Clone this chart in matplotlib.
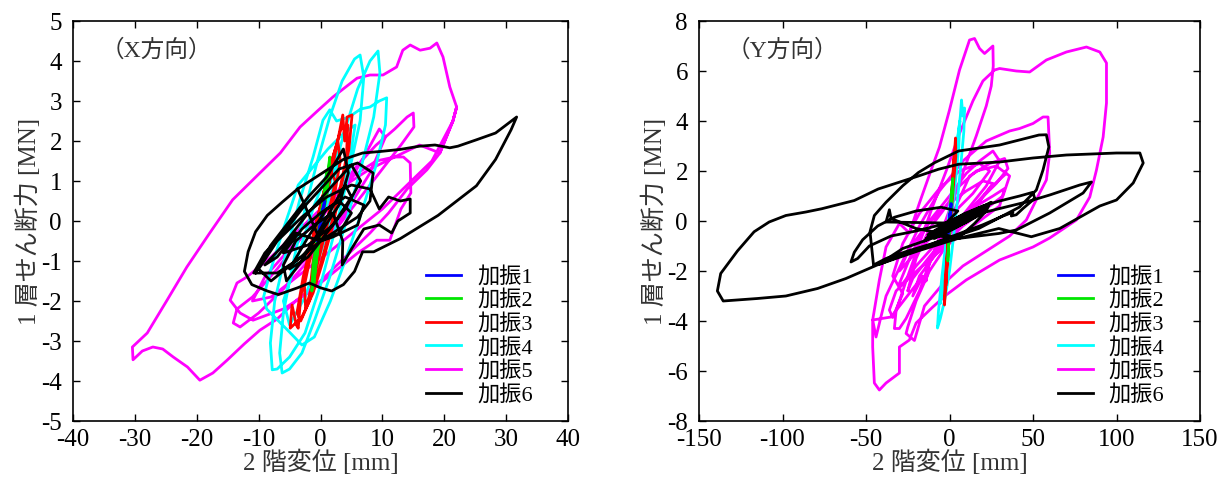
import numpy as np
import matplotlib
matplotlib.use("Agg")
import matplotlib.pyplot as plt

plt.rcParams['font.family'] = ['Liberation Serif', 'Noto Sans CJK JP']
plt.rcParams['axes.unicode_minus'] = False

labels = ['加振1', '加振2', '加振3', '加振4', '加振5', '加振6']
colors = ['#0000ff', '#00e600', '#ff0000', '#00ffff', '#ff00ff', '#000000']

# ---- X direction: (2F displacement [mm], 1F shear [MN]) ----
x_run1 = [(0, 0), (0.5, 0.4), (0.7, 0.5), (0.3, 0.1), (-0.3, -0.3), (-0.6, -0.5),
          (-0.2, -0.2), (0.4, 0.3), (0, 0)]
x_run2 = [(0, 0), (0.6, 0.6), (1.1, 1.1), (1.5, 1.6), (1.2, 0.9), (0.4, 0.1), (-0.4, -0.7),
          (-1.0, -1.3), (-1.4, -1.75), (-1.2, -1.1), (-0.4, -0.3), (0.4, 0.5), (1.0, 1.2),
          (0.6, 0.5), (-0.2, -0.3), (-0.8, -1.2), (-1.1, -1.6), (-0.6, -0.8), (0.2, 0.2), (0.8, 0.9)]
x_run3 = [(0, 0), (1.2, 0.8), (2.4, 1.7), (3.6, 2.65), (3.9, 2.0), (4.3, 2.6), (5.1, 2.65),
          (4.6, 1.8), (3.4, 0.9), (2, -0.1), (0.4, -1.0), (-1.2, -1.8), (-3, -2.4), (-4.9, -2.68),
          (-4.6, -2.1), (-3.9, -2.6), (-3.6, -2.68), (-3.2, -1.9), (-2, -1.0), (-0.6, 0.0),
          (0.8, 0.9), (2.2, 1.7), (3.3, 2.3), (4.4, 2.4), (4.2, 1.6), (3, 0.7), (1.4, -0.3),
          (-0.2, -1.2), (-1.8, -2.0), (-3.2, -2.5), (-3.8, -2.3), (-2.8, -1.4), (-1.4, -0.5),
          (0.2, 0.5), (1.6, 1.4), (2.8, 2.0), (3.2, 1.5), (2.2, 0.6), (0.6, -0.4), (-1, -1.4),
          (-2.4, -2.2), (-2.6, -1.6), (-1.2, -0.6), (0.4, 0.4), (1.8, 1.2), (2.4, 1.0),
          (1.2, 0.1), (-0.4, -0.8), (-1.6, -1.6), (-1.2, -1.0), (0, -0.2)]
x_run4 = [(0, 0), (2, 1.2), (4, 2.3), (6, 3.3), (8, 4.0), (9.3, 4.25), (9.6, 3.7), (8.6, 2.6),
          (6.5, 1.3), (4, -0.1), (1.5, -1.4), (-1, -2.5), (-3, -3.3), (-5, -3.7), (-6.2, -3.8),
          (-6.6, -3.3), (-6, -2.3), (-4.5, -1.1), (-2.5, 0.3), (-0.5, 1.5), (1.5, 2.6),
          (3.5, 3.5), (5.5, 4.05), (6.4, 4.15), (7, 3.6), (6.4, 2.5), (4.6, 1.2), (2.4, -0.2),
          (0, -1.6), (-2.5, -2.8), (-5, -3.4), (-7, -3.7), (-7.8, -3.72), (-8.1, -3.05),
          (-7.4, -2.0), (-5.6, -0.8), (-3.4, 0.5), (-1.2, 1.6), (0.4, 2.52), (1.5, 2.78),
          (2.6, 2.5), (4.6, 2.6), (6.5, 2.8), (8, 2.85), (9.5, 3.0), (10.7, 3.08), (10.5, 2.4),
          (9, 1.4), (6.8, 0.3), (4.2, -0.9), (1.6, -2.0), (-1, -2.9), (-3, -3.1), (-5.5, -2.7),
          (-8.7, -2.2), (-9.2, -1.9), (-8, -1.2), (-6, -0.2), (-3.6, 0.9), (-1.2, 1.35),
          (1.2, 1.8), (3.8, 2.2), (5.6, 2.4), (4.8, 1.6), (2.5, 0.4), (0, -0.8), (-2.5, -1.9),
          (-5, -2.6), (-6, -2.0), (-3.5, -0.8), (-1, 0.4), (1.6, 1.4), (3.2, 1.8), (2, 0.8), (0, 0)]
x_run5 = [(0, 0), (3, 0.8), (6, 1.4), (9, 1.9), (12, 2.3), (14, 2.6), (15, 2.7), (15.1, 2.35),
          (13, 1.9), (10, 1.3), (6, 0.5), (2, -0.3), (-2, -1.0), (-6, -1.7), (-10, -2.3),
          (-13, -2.65), (-14.1, -2.55), (-13.5, -2.2), (-11, -1.9), (-7, -1.2), (-3, -0.4),
          (1, 0.4), (5, 1.1), (9, 1.5), (12, 1.6), (13.4, 1.6), (14.5, 1.45), (14.6, 0.7),
          (13, 0.3), (11.2, -0.48), (9.1, -0.48), (6, -0.8), (2, -1.3), (-2, -1.8), (-6, -2.2),
          (-10.9, -2.48), (-13, -2.3), (-14.6, -1.98), (-13.5, -1.55), (-11.9, -1.4), (-8, -0.9),
          (-4, -0.3), (0, 0.3), (4, 0.9), (8, 1.3), (12, 1.6), (16, 1.9), (19.3, 1.7),
          (21.4, 2.5), (22, 2.85), (21.4, 2.5), (19.3, 1.7), (17.2, 1.28), (14, 0.8), (11, 0.2),
          (8, -0.3), (4, -0.9), (0, -1.5), (-4, -2.0), (-7, -2.45), (-9.8, -2.73),
          (-12.3, -3.07), (-15.1, -3.48), (-17.4, -3.8), (-19.5, -3.98), (-21.5, -3.65),
          (-23.8, -3.4), (-25.5, -3.2), (-27.1, -3.15), (-28.8, -3.25), (-30.3, -3.47),
          (-30.4, -3.15), (-28, -2.8), (-24.8, -1.98), (-21.6, -1.15), (-17.9, -0.3),
          (-14.2, 0.53), (-9.8, 1.2), (-6.5, 1.7), (-3.3, 2.35), (-0.5, 2.75), (2, 3.1),
          (5.9, 3.57), (8, 3.65), (10.1, 3.65), (12.3, 3.85), (13.3, 4.27), (14.5, 4.4),
          (16.1, 4.27), (17.7, 4.32), (18.8, 4.45), (19.8, 4.1), (20.9, 3.35), (22, 2.85),
          (21.4, 2.5), (18, 1.5), (14, 0.9), (10, 0.3), (6, -0.2), (2, -0.7), (-3, -1.3),
          (-8, -1.9), (-11, -2.0), (-9, -1.4), (-5, -0.7), (0, 0.1), (4, 0.8), (7, 1.6),
          (9.5, 2.3), (10.5, 2.1), (8, 1.2), (4, 0.2), (0, -0.6), (-4, -1.2)]
x_run6 = [(-10.5, -1.3), (-8, -0.6), (-5, 0.0), (-2, 0.6), (1, 1.1), (3.7, 1.8), (4.5, 1.2),
          (3, 0.4), (0, -0.3), (-3, -0.9), (-7, -1.3), (-10.8, -1.3), (-9, -0.8), (-6, -0.3),
          (-3, 0.3), (0, 0.8), (3, 1.3), (6, 1.45), (8.5, 1.2), (8, 0.5), (6, 0.1), (3, -0.2),
          (0, -0.5), (-4, -1.0), (-8, -1.5), (-10, -1.2), (-7, -0.5), (-3, 0.1), (1, 0.6),
          (5, 0.9), (8, 0.8), (9.5, 0.3), (11, 0.6), (12.9, 0.5), (14.5, 0.55), (14.5, 0.2),
          (12.5, 0.0), (11.5, -0.3), (9.5, -0.1), (7, -0.2), (5, -0.7), (3.5, -1.1),
          (3.6, -0.5), (2, 0.2), (-1, -0.1), (-4, -0.5), (-6, -1.1), (-5.5, -1.5), (-3, -1.0),
          (0, -0.2), (2.5, 0.5), (4, 0.9), (5, 0.6), (2, -0.1), (-2, -0.6), (-6, -0.8),
          (-3, -0.2), (0, 0.2), (3, 0.5), (5, 0.2), (3, -0.3), (0, -0.5),
          (-4, -0.3), (-7, -0.9), (-9, -1.1), (-6, -0.6), (-2, 0.2), (2, 0.9), (5, 1.4),
          (6.5, 1.0), (4, 0.3), (1, -0.3), (-2, -0.9), (-5, -1.2), (-2, -0.4), (1, 0.3),
          (4, 0.6), (7, 0.4), (6, -0.1), (2, -0.4),
          # large excursion
          (0, -0.5), (-3.7, 0.8), (-6.2, 0.47), (-8.6, 0.14), (-10.5, -0.27), (-11.7, -0.77),
          (-12.3, -1.26), (-11.1, -1.59), (-8.6, -1.75), (-6.8, -1.84), (-3.7, -1.67),
          (-1.8, -1.55), (0, -1.67), (1.8, -1.75), (3.7, -1.59), (5.5, -1.26), (6.8, -0.77),
          (8.6, -0.77), (12.9, -0.44), (19, 0.14), (25.2, 0.88), (28.3, 1.54), (30.8, 2.28),
          (31.7, 2.6), (28.3, 2.2), (25.2, 2.03), (22.2, 1.87), (20.9, 1.83), (18.5, 1.9),
          (16, 1.87), (12.9, 1.79), (9.8, 1.74), (6.8, 1.7), (3.7, 1.54), (1.2, 1.29),
          (-1.2, 1.05), (-3.7, 0.8)]

# ---- Y direction ----
y_run1 = [(0, 0), (0.5, 0.4), (1, 0.7), (0.4, 0.1), (-0.6, -0.4), (-1.2, -0.64), (-0.5, -0.2),
          (0.3, 0.3), (0, 0)]
y_run2 = [(0, 0), (1, 0.8), (2, 1.7), (1.6, 1.0), (0.3, 0), (-0.6, -1.0), (-1, -1.6),
          (-0.5, -0.8), (0.6, 0.4), (1.4, 1.2), (0.8, 0.4), (-0.4, -0.7), (0, 0)]
y_run3 = [(0, 0), (1.5, 1.2), (2.5, 2.2), (3.6, 3.32), (3.8, 2.6), (2.8, 1.8), (1.2, 0.4),
          (-0.5, -1.0), (-2, -2.2), (-3, -3.36), (-2.6, -2.4), (-1.4, -1.3), (0.2, 0.2),
          (1.8, 1.6), (3, 2.8), (2.4, 1.9), (0.8, 0.4), (-0.8, -1.1), (-2.2, -2.6),
          (-1.8, -1.8), (0, 0)]
y_run4 = [(0, 0), (2, 1.2), (4, 2.6), (5.5, 3.6), (6.5, 4.2), (7.2, 4.84), (8, 4.2), (9, 4.52),
          (8.6, 3.6), (7, 2.4), (5, 1.0), (2.5, -0.6), (0, -2.0), (-3, -3.2), (-5.5, -3.9),
          (-7.2, -4.28), (-6.6, -3.6), (-4.5, -2.2), (-2, -0.8), (0.5, 0.8), (3, 2.2), (5, 3.4),
          (6.2, 4.0), (5.6, 3.0), (3.6, 1.6), (1, 0), (-1.5, -1.4), (-4, -2.8), (-5.5, -3.3),
          (-3.5, -2.0), (-1, -0.6), (1.5, 0.8), (0, 0)]
y_run5 = [(0, 0), (12, 1.8), (24, 2.3), (33, 2.5), (35, 2.1), (28, 1.5), (16, 0.7), (4, -0.1),
          (-8, -0.9), (-20, -1.8), (-28, -2.5), (-30, -2.5), (-22, -1.2), (-12, 0.0), (0, 1.0),
          (10, 1.9), (18, 2.4), (26, 2.8), (30, 2.4), (22, 1.4), (10, 0.4), (-2, -0.6),
          (-14, -1.6), (-22, -2.3), (-25, -2.8), (-20, -1.5), (-12, -0.3), (-4, 0.4), (6, 1.4),
          (16, 2.0), (28, 2.2), (36, 1.8), (32, 1.0), (20, 0.4), (8, -0.2), (-4, -1.0),
          (-14, -1.8), (-14, -2.4), (-12, -1.6), (-4, -0.7), (6, 0.0), (16, 0.6), (26, 1.0),
          (33, 1.3), (30, 0.6), (18, 0.0), (6, -0.6), (-6, -1.2), (-18, -1.9), (-26, -2.4),
          (-32, -2.8), (-36, -3.56), (-34, -3.86), (-28, -2.9),
          (-34, -2.2), (-28, -0.9), (-18, 0.3), (-6, 1.3), (6, 2.0), (18, 2.3), (24, 2.0),
          (14, 1.1), (2, 0.3), (-10, -0.6), (-22, -1.4), (-30, -2.0), (-24, -1.1), (-14, -0.2),
          (-2, 0.6), (10, 1.2), (20, 1.6), (26, 1.5), (16, 0.6), (4, -0.2), (-8, -1.3),
          (-18, -2.2), (-22, -3.0), (-16, -2.2),
          (-35, -3.84), (-46, -3.96),
          (-42, -2.36), (-38, -1.04), (-30, -0.1), (-24, -0.48), (-18, 0.72), (-11, 2.04),
          (-6, 2.96), (0, 4.44), (6, 6.04), (12, 7.24), (15, 7.3), (18, 6.9), (21, 6.7),
          (26, 7.0), (26.2, 6.2), (25, 5.4), (22, 4.6), (16, 3.4), (10, 2.3), (2, 0.8),
          (-8, -1.0), (-18, -2.8), (-26, -3.9), (-30, -4.3), (-33, -4.3), (-32, -3.6),
          (-26, -2.4), (-18, -0.9), (-10, 0.6), (-2, 2.0), (6, 3.5), (14, 4.8), (20, 5.6),
          (27, 6.04), (30, 6.1), (40, 6.0), (48, 5.96), (58, 6.44), (70, 6.76), (82, 6.96),
          (90, 6.76), (94, 6.32), (94, 4.72), (92, 3.36), (88, 2.04), (84, 0.96), (76, 0.04),
          (60, -0.68), (50, -1.04), (30, -1.56), (10, -2.36), (-2, -2.96), (-10, -3.44),
          (-20, -4.08), (-24, -4.76), (-30, -5.04), (-30, -6.08), (-38, -6.48), (-42, -6.76),
          (-45, -6.48), (-46, -5.04), (-46, -3.96), (-44, -4.64), (-38, -3.0), (-28, -1.6),
          (-18, -0.2), (-6, 1.2), (8, 2.4), (22, 3.2), (36, 3.6), (42, 3.7), (50, 3.9),
          (56, 4.16), (59, 4.16), (60, 2.72), (58, 1.64), (54, 1.12), (46, 0.04), (36, -0.6),
          (22, -1.2), (8, -1.8), (-5, -2.6), (-15, -3.4), (-21, -4.78), (-26, -4.5),
          (-25, -4.24), (-20, -3.2), (-12, -2.0), (0, -0.8), (12, 0.4), (24, 1.3), (34, 1.9)]
y_run6 = [(0, 0), (12, 0.35), (22, 0.65), (25, 0.75), (18, 0.35), (5, -0.1), (-8, -0.55),
          (-15, -0.8), (-10, -0.45), (2, -0.05), (14, 0.35), (23, 0.6), (15, 0.15), (3, -0.3),
          (-9, -0.7), (-13, -0.55), (-3, -0.15), (9, 0.3), (20, 0.6), (30, 0.8), (42, 1.0),
          (50, 1.15), (51, 0.9), (44, 0.5), (40, 0.25), (37, 0.2), (38, 0.35), (32, 0.2),
          (20, -0.15), (6, -0.5), (-10, -0.9), (-25, -1.2), (-38, -1.5), (-45.5, -1.76),
          (-46, -1.44), (-47.6, -0.43), (-45, 0.22), (-38, 0.75), (-28, 1.41), (-18.6, 1.94),
          (-9, 2.33), (5.4, 2.8), (30, 3.04), (53.6, 3.44), (58, 3.45), (59.5, 2.96),
          (56, 2.04), (52, 1.24), (42, 0.56), (17.5, -0.3), (-6.6, -0.83), (-28, -1.36),
          (-42.7, -1.75), (-28, -1.1), (-6.6, -0.6), (5, -0.7), (29.5, -0.5), (40, -0.36),
          (60, 0.32), (80, 1.12), (85, 1.56), (78, 1.44), (60, 1.04), (46, 0.76),
          (29.5, 0.49), (5.4, 0.09), (-8, -0.2), (-20, -0.4), (-35, -0.6), (-48, -1.0),
          (-55, -1.5), (-59, -1.64), (-57, -1.25), (-52, -0.75), (-43, -0.2), (-33, 0.15),
          (-20, 0.4), (-5, 0.55), (5, 0.4), (-2, -0.08), (-20, -0.06), (-38, -0.04),
          (-36, 0.45), (-35, 0.1), (-20, -0.3), (-5, -0.5),
          # largest cycle
          (5, -0.7), (29.5, -0.3), (49, -0.63), (66, -0.3), (90, 0.6), (100, 0.84),
          (110, 1.52), (116, 2.32), (114, 2.72), (100, 2.72), (70, 2.64), (50, 2.52),
          (30, 2.36), (5.4, 2.27), (-6.6, 2.07), (-18.6, 1.8), (-30.7, 1.54), (-42.7, 1.28),
          (-57, 0.82), (-76.5, 0.49), (-86, 0.36), (-98, 0.22), (-108, -0.04), (-117, -0.43),
          (-127, -1.2), (-137, -2.1), (-139, -2.8), (-135.5, -3.2), (-115, -3.1), (-98, -3.0),
          (-79, -2.7), (-62, -2.3), (-43, -1.75), (-19, -1.2), (5, -0.7),
          # dense core
          (15, -0.1), (22, 0.4), (24, 0.7), (12, 0.3), (0, -0.25), (-12, -0.64), (-6, -0.4),
          (8, 0.1), (20, 0.5), (10, 0.1), (-4, -0.4), (-10, -0.5), (4, 0.05), (18, 0.45),
          (22, 0.55), (8, 0.2), (-6, -0.3), (-14, -0.7), (-4, -0.5), (10, -0.05), (21, 0.35),
          (14, 0.25), (0, -0.2), (-11, -0.6)]

x_series = [x_run1, x_run2, x_run3, x_run4, x_run5, x_run6]
y_series = [y_run1, y_run2, y_run3, y_run4, y_run5, y_run6]
zorders = [5, 4, 3, 2, 1, 6]

fig = plt.figure(figsize=(12.25, 4.79), dpi=100)
ax1 = fig.add_axes([73 / 1225, 58 / 479, 495 / 1225, 400 / 479])
ax2 = fig.add_axes([699 / 1225, 58 / 479, 501 / 1225, 400 / 479])


def draw(ax, series, tag, xlim, ylim, xticks, yticks):
    handles = []
    for pts, c, lab, z in zip(series, colors, labels, zorders):
        arr = np.array(pts)
        h, = ax.plot(arr[:, 0], arr[:, 1], color=c, lw=2.0, label=lab, zorder=z,
                     solid_joinstyle='round')
        handles.append(h)
    ax.set_xlim(*xlim)
    ax.set_ylim(*ylim)
    ax.set_xticks(xticks)
    ax.set_yticks(yticks)
    ax.tick_params(direction='in', length=5, width=1, top=True, right=True,
                   labelsize=18)
    ax.tick_params(axis='x', pad=6)
    ax.tick_params(axis='y', pad=8)
    for s in ax.spines.values():
        s.set_linewidth(1.2)
    ax.set_xlabel('2 階変位 [mm]', fontsize=18, color='#333333', labelpad=-1)
    ax.set_ylabel('1 層せん断力 [MN]', fontsize=18, color='#333333', labelpad=0)
    ax.text(0.055, 0.91, tag, transform=ax.transAxes, fontsize=17, color='#333333')
    ax.legend(handles=handles, loc='lower right', bbox_to_anchor=(0.96, 0.0),
              frameon=False, fontsize=16, handlelength=1.6, handletextpad=0.7,
              labelspacing=0.12, borderaxespad=0.3)


draw(ax1, x_series, '（X方向）', (-40, 40), (-5, 5), range(-40, 41, 10), range(-5, 6))
draw(ax2, y_series, '（Y方向）', (-150, 150), (-8, 8), range(-150, 151, 50), range(-8, 9, 2))

fig.savefig('out.png', dpi=100)
